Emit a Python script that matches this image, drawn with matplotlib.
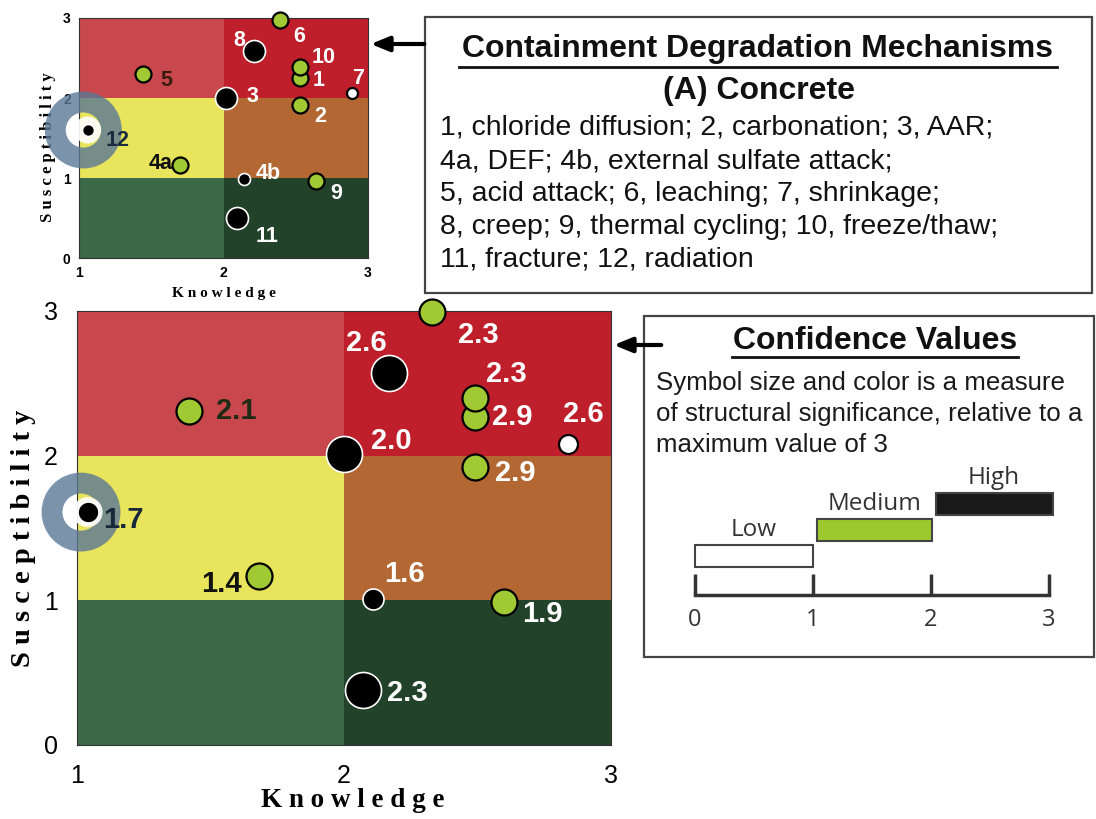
import matplotlib
matplotlib.use("Agg")
import matplotlib.pyplot as plt
from matplotlib.patches import Rectangle

# ---- data ----
mechanisms = ["1", "2", "3", "4a", "4b", "5", "6", "7", "8", "9", "10", "11", "12"]
knowledge = [2.49, 2.49, 2.00, 1.68, 2.11, 1.42, 2.33, 2.84, 2.17, 2.60, 2.49, 2.07, 1.04]
susceptibility = [2.27, 1.92, 2.01, 1.17, 1.01, 2.31, 2.99, 2.08, 2.57, 0.99, 2.40, 0.38, 1.61]
confidence = ["2.9", "2.9", "2.0", "1.4", "1.6", "2.1", "2.3", "2.6", "2.6", "1.9", "2.3", "2.3", "1.7"]
significance = ["Medium", "Medium", "High", "Medium", "High", "Medium", "Medium",
                "Low", "High", "Medium", "Medium", "High", "High"]

# the small overview panel places the points a little differently
knowledge_small = [2.53, 2.53, 2.02, 1.70, 2.14, 1.44, 2.39, 2.89, 2.21, 2.64, 2.53, 2.09, 1.06]
susceptibility_small = [2.25, 1.91, 2.00, 1.16, 0.99, 2.30, 2.98, 2.06, 2.59, 0.96, 2.39, 0.50, 1.60]

zone_knowledge = [(1, 2), (2, 3)]
zone_susceptibility = [(0, 1), (1, 2), (2, 3)]

mechanism_list = [
    "1, chloride diffusion; 2, carbonation; 3, AAR;",
    "4a, DEF; 4b, external sulfate attack;",
    "5, acid attack; 6, leaching; 7, shrinkage;",
    "8, creep; 9, thermal cycling; 10, freeze/thaw;",
    "11, fracture; 12, radiation",
]
confidence_note = [
    "Symbol size and color is a measure",
    "of structural significance, relative to a",
    "maximum value of 3",
]
levels = ["Low", "Medium", "High"]
level_start = [0.0, 1.03, 2.04]
level_end = [1.0, 2.01, 3.03]
scale_ticks = [0, 1, 2, 3]

# ---- styles ----
W, H = 1096, 819
zone_colors = {
    (0, 0): "#3c6947", (0, 1): "#e8e45c", (0, 2): "#c9484d",
    (1, 0): "#23422a", (1, 1): "#b36833", (1, 2): "#be1f2a",
}
face = {"High": "black", "Medium": "#a0c934", "Low": "white"}
edge = {"High": "white", "Medium": "black", "Low": "black"}
big = ["3", "8", "11"]
# marker diameters in pixels
diam_main = {"big": 36, "High": 21, "Medium": 26, "Low": 19}
diam_small = {"big": 22, "High": 12, "Medium": 16, "Low": 11}

# label offsets (pixels, y pointing down)
off_main = {"1": (37, 0), "2": (40, 6), "3": (47, -13), "4a": (-37, 8), "4b": (31, -25),
            "5": (47, 0), "6": (46, 23), "7": (15, -30), "8": (-23, -30), "9": (38, 12),
            "10": (31, -24), "11": (45, 3), "12": (36, 8)}
off_small = {"1": (19, 3), "2": (20, 11), "3": (26, -1), "4a": (-20, -2), "4b": (24, -5),
             "5": (24, 6), "6": (19, 17), "7": (6, -15), "8": (-15, -10), "9": (20, 12),
             "10": (24, -9), "11": (31, 19), "12": (30, 10)}
dark_main = {"5": "#1f2a16", "4a": "#111111", "12": "#18283a"}
dark_small = {"5": "#3a1a10", "4a": "#111111", "12": "#1b2b40"}

SANS = "Liberation Sans"
SERIF = "Liberation Serif"


def px_axes(fig, x0, y0, x1, y1):
    return fig.add_axes([x0 / W, (H - y1) / H, (x1 - x0) / W, (y1 - y0) / H])


def draw_panel(ax, kx, sy, diam, offsets, dark, label_size, tick_size, tick_pad,
               xlab_size, ylab_size, xlab_at, ylab_at, show_value, ring):
    for i, (x0, x1) in enumerate(zone_knowledge):
        for j, (y0, y1) in enumerate(zone_susceptibility):
            ax.add_patch(Rectangle((x0, y0), x1 - x0, y1 - y0, color=zone_colors[(i, j)], lw=0, zorder=0))
    ax.set_xlim(1, 3)
    ax.set_ylim(0, 3)
    ax.set_xticks([1, 2, 3])
    ax.set_yticks([0, 1, 2, 3])
    ax.tick_params(length=0, labelsize=tick_size, pad=tick_pad)
    for lab in ax.get_xticklabels() + ax.get_yticklabels():
        lab.set_family(SANS)
    for sp in ax.spines.values():
        sp.set_color("#333333")
        sp.set_linewidth(0.8)
    ax.set_xlabel("K n o w l e d g e", family=SERIF, weight="bold", fontsize=xlab_size, va="center")
    ax.set_ylabel("S u s c e p t i b i l i t y", family=SERIF, weight="bold", fontsize=ylab_size, va="center")
    ax.xaxis.set_label_coords(*xlab_at)
    ax.yaxis.set_label_coords(*ylab_at)

    # highlight ring around radiation (12)
    k = mechanisms.index("12")
    rx, ry = kx[k], sy[k]
    ax.scatter([rx - ring[0]], [ry], s=ring[1], facecolor="none", edgecolor="#5a7896",
               linewidths=ring[2], alpha=0.8, zorder=3, clip_on=False)
    ax.scatter([rx], [ry], s=ring[3], facecolor="white", edgecolor="none", alpha=0.9, zorder=3, clip_on=False)

    for m, x, y, c, sig in zip(mechanisms, kx, sy, confidence, significance):
        d = diam["big"] if m in big else diam[sig]
        lw = 1.6 if sig != "High" else 1.2
        ax.scatter([x], [y], s=(d * 0.72) ** 2, facecolor=face[sig], edgecolor=edge[sig],
                   linewidths=lw, zorder=5, clip_on=False)
        txt = c if show_value else m
        dx, dy = offsets[m]
        ax.annotate(txt, (x, y), xytext=(dx, -dy), textcoords="offset pixels",
                    ha="center", va="center", fontsize=label_size, weight="bold",
                    family=SANS, color=dark.get(m, "white"), zorder=6)
    return ax


fig = plt.figure(figsize=(W / 100, H / 100), dpi=100)

small = px_axes(fig, 79, 18, 368, 258)
draw_panel(small, knowledge_small, susceptibility_small, diam_small, off_small, dark_small,
           label_size=15.5, tick_size=10, tick_pad=6, xlab_size=11, ylab_size=12,
           xlab_at=(0.503, -0.146), ylab_at=(-0.107, 0.4625),
           show_value=False, ring=(0.03, (56 * 0.72) ** 2, 15, (27 * 0.72) ** 2))
for lab in small.get_xticklabels() + small.get_yticklabels():
    lab.set_weight("bold")

main = px_axes(fig, 77, 311, 611, 745)
draw_panel(main, knowledge, susceptibility, diam_main, off_main, dark_main,
           label_size=21, tick_size=18, tick_pad=14, xlab_size=19.5, ylab_size=20.5,
           xlab_at=(0.517, -0.127), ylab_at=(-0.101, 0.475),
           show_value=True, ring=(0.025, (58 * 0.72) ** 2, 15, (30 * 0.72) ** 2))

# ---- overlay for boxes, text and arrows (pixel coordinates) ----
ov = fig.add_axes([0, 0, 1, 1])
ov.set_xlim(0, W)
ov.set_ylim(H, 0)
ov.axis("off")

ov.add_patch(Rectangle((425, 17), 667, 276, fill=False, ec="#444444", lw=1.6))
ov.text(758, 49, "Containment Degradation Mechanisms", ha="center", va="center",
        fontsize=23, weight="bold", family=SANS, color="#111111")
ov.plot([459, 1057], [67, 67], color="#111111", lw=2)
ov.text(759, 91, "(A) Concrete", ha="center", va="center", fontsize=23, weight="bold",
        family=SANS, color="#111111")
for i, line in enumerate(mechanism_list):
    ov.text(440, 128 + 33 * i, line, ha="left", va="center", fontsize=20.5, family=SANS, color="#111111")

ov.add_patch(Rectangle((644, 316), 450, 341, fill=False, ec="#444444", lw=1.6))
ov.text(875, 341, "Confidence Values", ha="center", va="center", fontsize=23, weight="bold",
        family=SANS, color="#111111")
ov.plot([732, 1018], [357, 357], color="#111111", lw=2)
for i, line in enumerate(confidence_note):
    ov.text(656, 383 + 31 * i, line, ha="left", va="center", fontsize=18.6, family=SANS, color="#1a1a1a")

ov.annotate("", xy=(368, 44), xytext=(427, 44),
            arrowprops=dict(arrowstyle="-|>,head_length=1.1,head_width=0.45", color="black", lw=3))
ov.annotate("", xy=(611, 345), xytext=(664, 345),
            arrowprops=dict(arrowstyle="-|>,head_length=1.1,head_width=0.45", color="black", lw=3))

# ---- confidence scale ----
leg = px_axes(fig, 695, 470, 1049, 635)
leg.set_xlim(0, 3)
leg.set_ylim(0, 165)
leg.axis("off")
bar_face = {"Low": "white", "Medium": "#9cc92e", "High": "#1a1a1a"}
for i, (lv, a, b) in enumerate(zip(levels, level_start, level_end)):
    y0 = 68 + 26 * i
    leg.bar(a, 22, width=b - a, bottom=y0, align="edge", color=bar_face[lv],
            edgecolor="#444444", linewidth=1.5, clip_on=False)
    leg.text((a + b) / 2, y0 + 37, lv, ha="center", va="center", fontsize=17.5,
             family="Open Sans", color="#333333")
leg.plot([scale_ticks[0], scale_ticks[-1]], [40, 40], color="#333333", lw=2.5, clip_on=False)
for t in scale_ticks:
    leg.plot([t, t], [40, 61], color="#333333", lw=2.5, clip_on=False, solid_capstyle="butt")
    leg.text(t, 15, str(t), ha="center", va="center", fontsize=17, family="Open Sans", color="#333333")

fig.savefig("out.png", dpi=100)
